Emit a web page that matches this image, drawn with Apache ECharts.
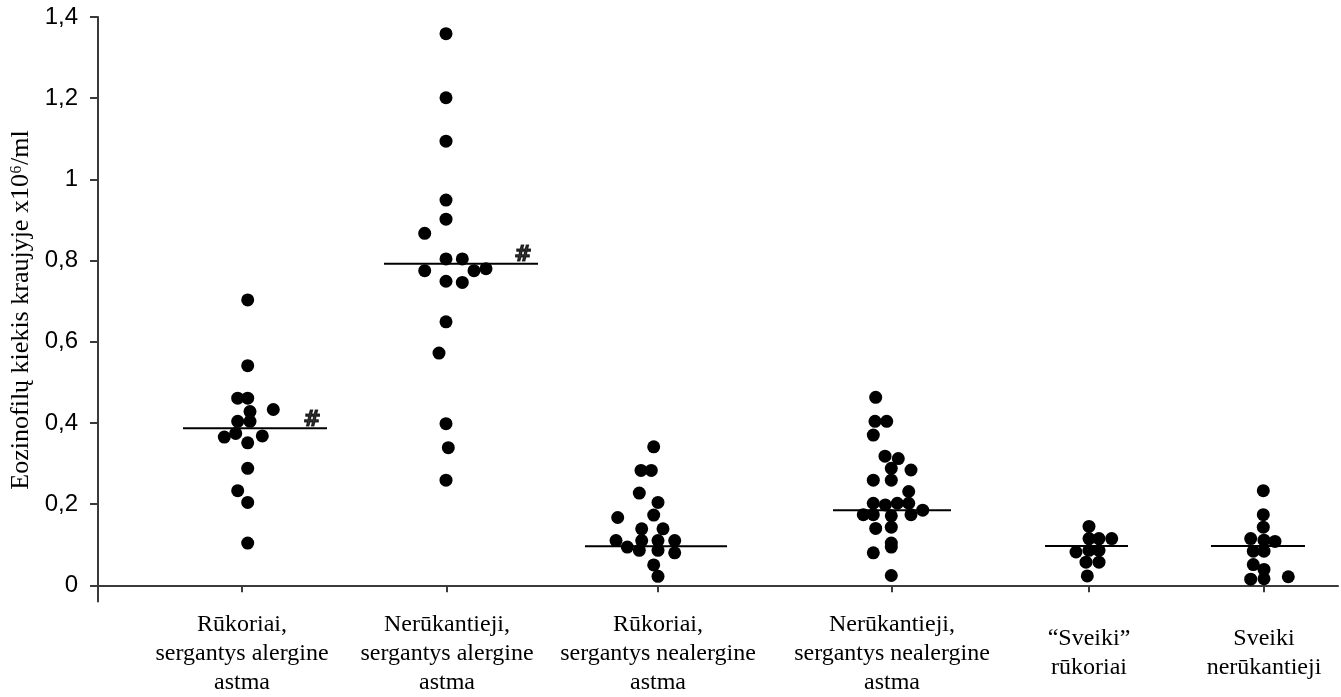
<!DOCTYPE html>
<html>
<head>
<meta charset="utf-8">
<script src="https://cdn.jsdelivr.net/npm/echarts@6/dist/echarts.min.js"></script>
<style>
  html, body { margin: 0; padding: 0; background: #fff; }
  #chart { width: 1341px; height: 697px; }
</style>
</head>
<body>
<div id="chart"></div>
<script>
// Group names (x-axis labels)
const groupNames = [
  'Rūkoriai,\nsergantys alergine\nastma',
  'Nerūkantieji,\nsergantys alergine\nastma',
  'Rūkoriai,\nsergantys nealergine\nastma',
  'Nerūkantieji,\nsergantys nealergine\nastma',
  '“Sveiki”\nrūkoriai',
  'Sveiki\nnerūkantieji'
];

// Position of each group on the x scale
const groupX = [1.44, 3.49, 5.60, 7.94, 9.91, 11.66];

// Eosinophil counts per group (x10^6/ml)
const values1 = [0.703, 0.541, 0.461, 0.461, 0.433, 0.428, 0.404, 0.404, 0.374, 0.368, 0.365, 0.351, 0.288, 0.233, 0.204, 0.104];
const values2 = [1.359, 1.201, 1.094, 0.949, 0.902, 0.867, 0.804, 0.804, 0.780, 0.775, 0.775, 0.749, 0.746, 0.649, 0.572, 0.398, 0.339, 0.259];
const values3 = [0.341, 0.283, 0.283, 0.227, 0.204, 0.173, 0.167, 0.139, 0.139, 0.110, 0.110, 0.110, 0.110, 0.094, 0.086, 0.086, 0.080, 0.050, 0.022];
const values4 = [0.463, 0.404, 0.404, 0.370, 0.318, 0.312, 0.288, 0.284, 0.259, 0.259, 0.231, 0.202, 0.198, 0.202, 0.202, 0.185, 0.174, 0.174, 0.171, 0.174, 0.143, 0.140, 0.104, 0.094, 0.080, 0.024];
const values5 = [0.145, 0.115, 0.115, 0.115, 0.086, 0.086, 0.082, 0.057, 0.057, 0.023];
const values6 = [0.233, 0.174, 0.143, 0.115, 0.111, 0.108, 0.084, 0.084, 0.051, 0.039, 0.021, 0.016, 0.015];

// Horizontal spread of the dots within each group (x units)
const spread1 = [0.057, 0.057, -0.043, 0.057, 0.313, 0.08, -0.043, 0.08, -0.063, 0.203, -0.177, 0.057, 0.057, -0.043, 0.057, 0.057];
const spread2 = [-0.01, -0.01, -0.01, -0.01, -0.01, -0.223, -0.01, 0.153, 0.39, -0.223, 0.27, -0.01, 0.153, -0.01, -0.08, -0.01, 0.013, -0.01];
const spread3 = [-0.043, -0.17, -0.067, -0.187, 0, -0.043, -0.403, -0.163, 0.05, -0.42, -0.163, 0, 0.167, -0.307, -0.187, 0, 0.167, -0.043, 0];
const spread4 = [-0.163, -0.17, -0.053, -0.187, -0.07, 0.063, -0.007, 0.19, -0.187, -0.007, 0.167, -0.187, -0.067, 0.053, 0.167, 0.307, -0.287, -0.187, -0.007, 0.19, -0.007, -0.163, -0.007, -0.007, -0.187, -0.007];
const spread5 = [0, 0, 0.1, 0.227, 0, 0.1, -0.13, -0.03, 0.1, -0.017];
const spread6 = [-0.007, -0.007, -0.007, -0.133, 0, 0.11, -0.107, 0, -0.107, 0, 0.243, 0, -0.133];

// Group medians
const medians = [0.387, 0.792, 0.096, 0.185, 0.097, 0.097];

// Groups marked with "#"
const marked = [true, true, false, false, false, false];

// Y-axis tick values
const yTicks = [0, 0.2, 0.4, 0.6, 0.8, 1.0, 1.2, 1.4];

// Extent of the median bars to the left / right of the group position
const barLeft  = [0.59, 0.63, 0.73, 0.59, 0.44, 0.53];
const barRight = [0.85, 0.91, 0.69, 0.59, 0.39, 0.41];

const allValues = [values1, values2, values3, values4, values5, values6];
const allSpread = [spread1, spread2, spread3, spread4, spread5, spread6];

const chart = echarts.init(document.getElementById('chart'), null, { renderer: 'canvas' });

const dotData = [];
allValues.forEach((vals, g) => {
  vals.forEach((v, i) => dotData.push([groupX[g] + allSpread[g][i], v]));
});

const series = [{
  type: 'scatter',
  data: dotData,
  symbol: 'circle',
  symbolSize: 13,
  itemStyle: { color: '#000', opacity: 1 },
  silent: true,
  z: 3
}];

// Median bars
medians.forEach((m, g) => {
  series.push({
    type: 'line',
    data: [[groupX[g] - barLeft[g], m], [groupX[g] + barRight[g], m]],
    symbol: 'none',
    lineStyle: { color: '#000', width: 2 },
    silent: true,
    z: 2
  });
});

// "#" marks at the right end of the marked median bars
series.push({
  type: 'scatter',
  data: medians
    .map((m, g) => marked[g] ? [groupX[g] + barRight[g], m] : null)
    .filter(d => d !== null),
  symbol: 'circle',
  symbolSize: 1,
  itemStyle: { color: 'rgba(0,0,0,0)' },
  label: {
    show: true,
    formatter: '#',
    position: 'top',
    distance: 0,
    offset: [-15, 3],
    fontFamily: 'DejaVu Sans',
    fontWeight: 'bold',
    fontSize: 21,
    color: '#000',
    textBorderColor: '#000',
    textBorderWidth: 1.2
  },
  silent: true,
  z: 4
});

chart.setOption({
  animation: false,
  backgroundColor: '#fff',
  grid: { left: 98, right: 3, top: 17, bottom: 91 },
  xAxis: {
    type: 'value',
    min: 0,
    max: 12.4,
    splitLine: { show: false },
    axisLine: { onZero: true, lineStyle: { color: '#3a3a3a', width: 2 } },
    axisTick: {
      show: true,
      customValues: groupX,
      length: 7,
      lineStyle: { color: '#3a3a3a', width: 2 }
    },
    axisLabel: {
      show: true,
      customValues: groupX,
      formatter: (v) => {
        const i = groupX.findIndex(x => Math.abs(x - v) < 1e-6);
        return i >= 0 ? groupNames[i] : '';
      },
      verticalAlign: 'middle',
      margin: 52,
      fontFamily: 'Liberation Serif',
      fontSize: 24,
      lineHeight: 29,
      color: '#000'
    }
  },
  yAxis: {
    type: 'value',
    min: -0.04,
    max: 1.4,
    splitLine: { show: false },
    axisLine: { show: true, lineStyle: { color: '#3a3a3a', width: 2 } },
    axisTick: {
      show: true,
      customValues: yTicks,
      length: 8,
      lineStyle: { color: '#3a3a3a', width: 2 }
    },
    axisLabel: {
      customValues: yTicks,
      formatter: (v) => String(Math.round(v * 10) / 10).replace('.', ','),
      margin: 20,
      fontFamily: 'Liberation Sans',
      fontSize: 24,
      color: '#000'
    }
  },
  graphic: [{
    type: 'text',
    x: 21,
    y: 310,
    rotation: Math.PI / 2,
    style: {
      text: 'Eozinofilų kiekis kraujyje x10⁶/ml',
      fontFamily: 'Liberation Serif',
      fontSize: 26,
      fill: '#000',
      align: 'center',
      verticalAlign: 'middle'
    }
  }],
  series: series
});
</script>
</body>
</html>
